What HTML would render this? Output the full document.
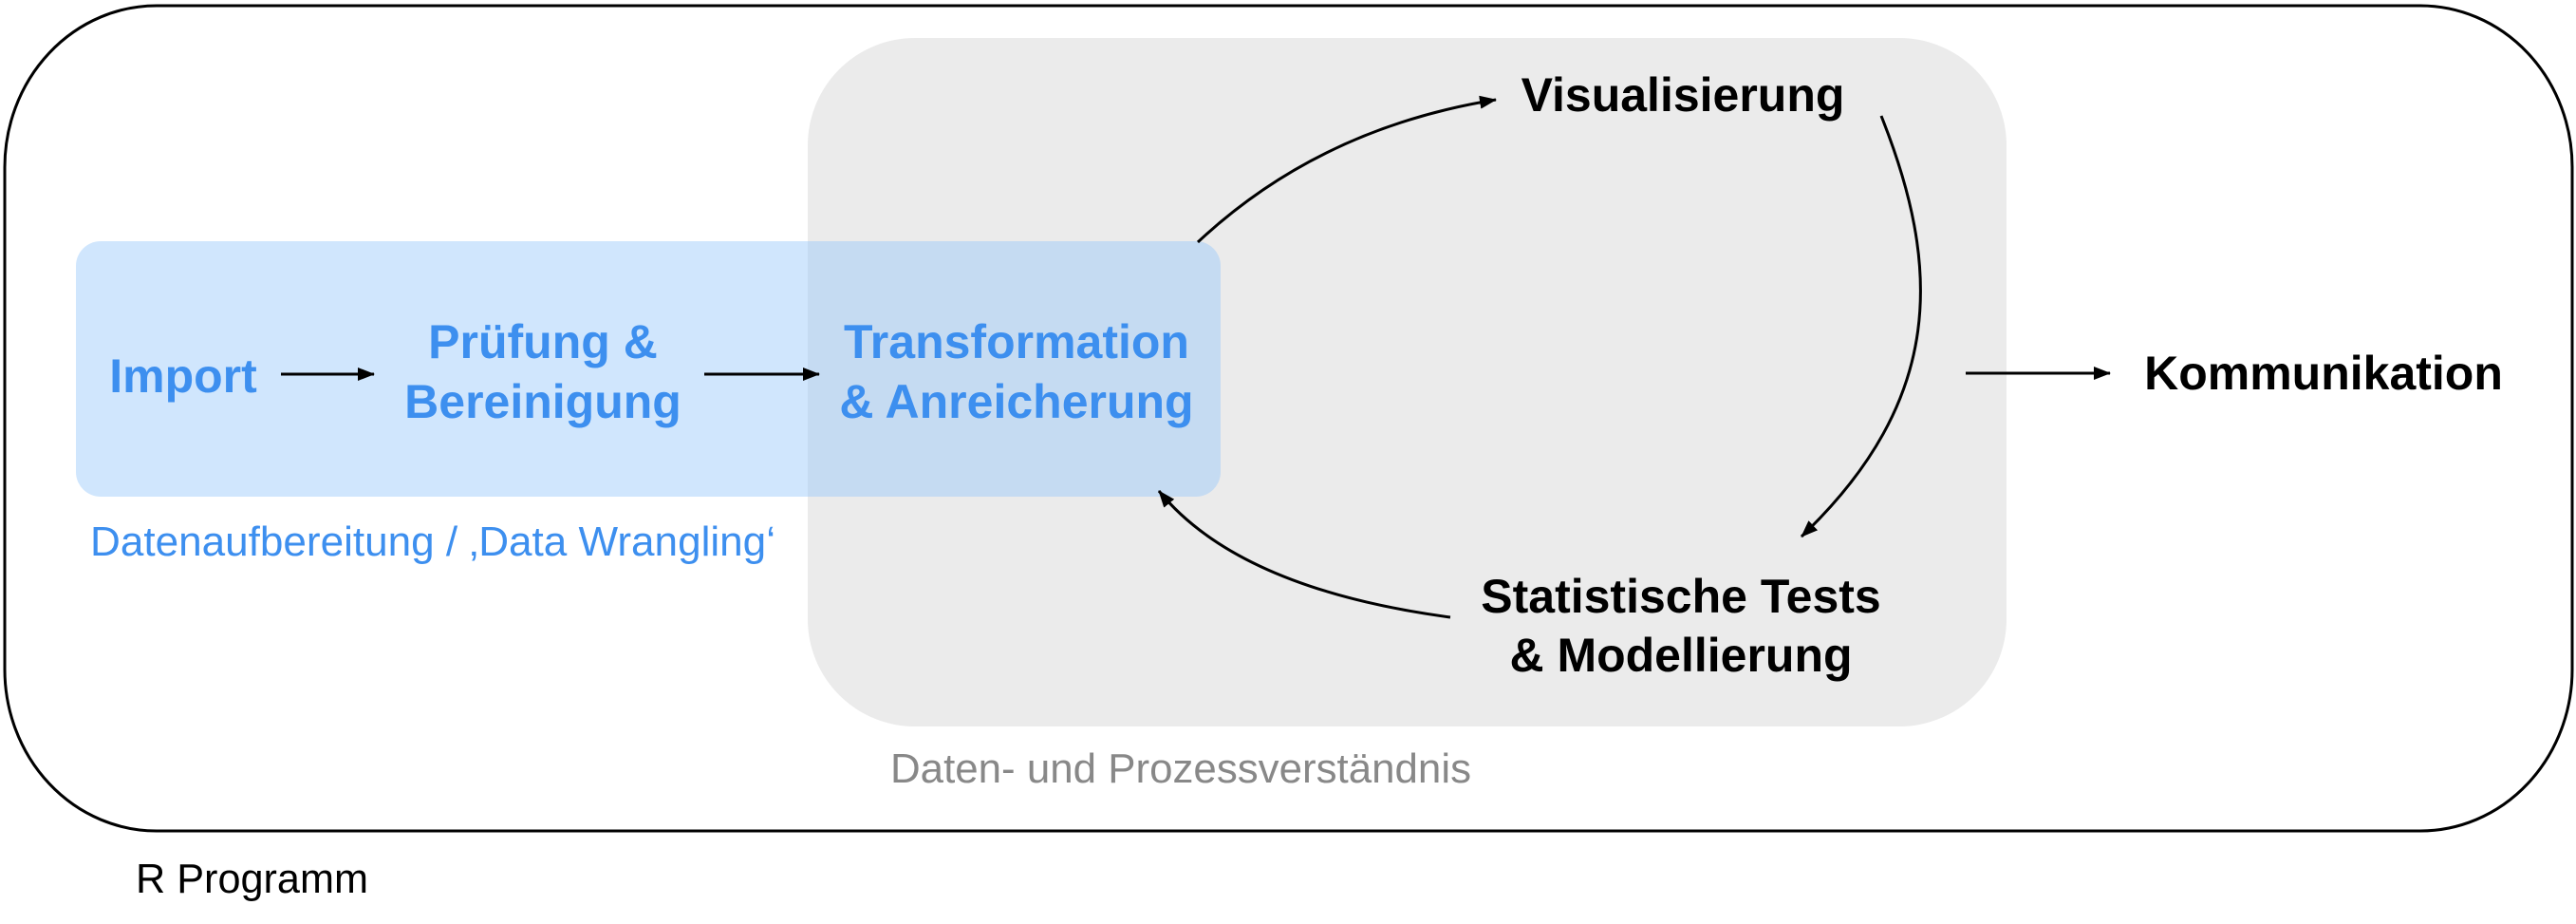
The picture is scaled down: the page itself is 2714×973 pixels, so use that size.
<!DOCTYPE html>
<html><head><meta charset="utf-8"><style>
html,body{margin:0;padding:0;background:#fff;}
body{width:2714px;height:968px;overflow:hidden;}
svg text{font-family:"Liberation Sans",Arial,sans-serif;}
</style></head><body>
<svg width="2714" height="968" viewBox="0 0 2714 968" xmlns="http://www.w3.org/2000/svg">
<defs>
<marker id="ah2" markerWidth="18" markerHeight="14" refX="17" refY="7" orient="auto" markerUnits="userSpaceOnUse" viewBox="0 0 18 14">
<path d="M0,0 L18,7 L0,14 z" fill="#000"/>
</marker>
</defs>
<rect x="5" y="6" width="2705" height="869" rx="160" ry="170" fill="#fff" stroke="#000" stroke-width="3"/>
<rect x="851" y="40" width="1263" height="725" rx="113" ry="113" fill="#ebebeb"/>
<rect x="80" y="254" width="1206" height="269" rx="26" ry="26" fill="rgb(150,200,250)" fill-opacity="0.45"/>

<g font-weight="bold" font-size="50" fill="#3d8fef" text-anchor="middle">
<text x="193" y="413">Import</text>
<text x="572" y="377">Prüfung &amp;</text>
<text x="572" y="440">Bereinigung</text>
<text x="1071" y="377">Transformation</text>
<text x="1071" y="440">&amp; Anreicherung</text>
</g>
<g font-weight="bold" font-size="50" fill="#000">
<text x="1773" y="117" text-anchor="middle">Visualisierung</text>
<text x="2448" y="410" text-anchor="middle">Kommunikation</text>
<text x="1771" y="645" text-anchor="middle">Statistische Tests</text>
<text x="1771" y="707" text-anchor="middle">&amp; Modellierung</text>
</g>
<text x="95" y="585" font-size="44" fill="#3d8fef" textLength="722" lengthAdjust="spacingAndGlyphs">Datenaufbereitung / ‚Data Wrangling‘</text>
<text x="938" y="824" font-size="44" fill="#888" textLength="612" lengthAdjust="spacingAndGlyphs">Daten- und Prozessverständnis</text>
<text x="143" y="940" font-size="44" fill="#000" textLength="245" lengthAdjust="spacingAndGlyphs">R Programm</text>

<g stroke="#000" stroke-width="3" fill="none">
<line x1="296" y1="394" x2="394" y2="394" marker-end="url(#ah2)"/>
<line x1="742" y1="394" x2="863" y2="394" marker-end="url(#ah2)"/>
<line x1="2071" y1="393" x2="2223" y2="393" marker-end="url(#ah2)"/>
<path d="M1262,255 Q1390,135 1576,105" marker-end="url(#ah2)"/>
<path d="M1982,122 C2045,280 2050,420 1898,565" marker-end="url(#ah2)"/>
<path d="M1528,650 Q1305,620 1221,517" marker-end="url(#ah2)"/>
</g>
</svg>
</body></html>
